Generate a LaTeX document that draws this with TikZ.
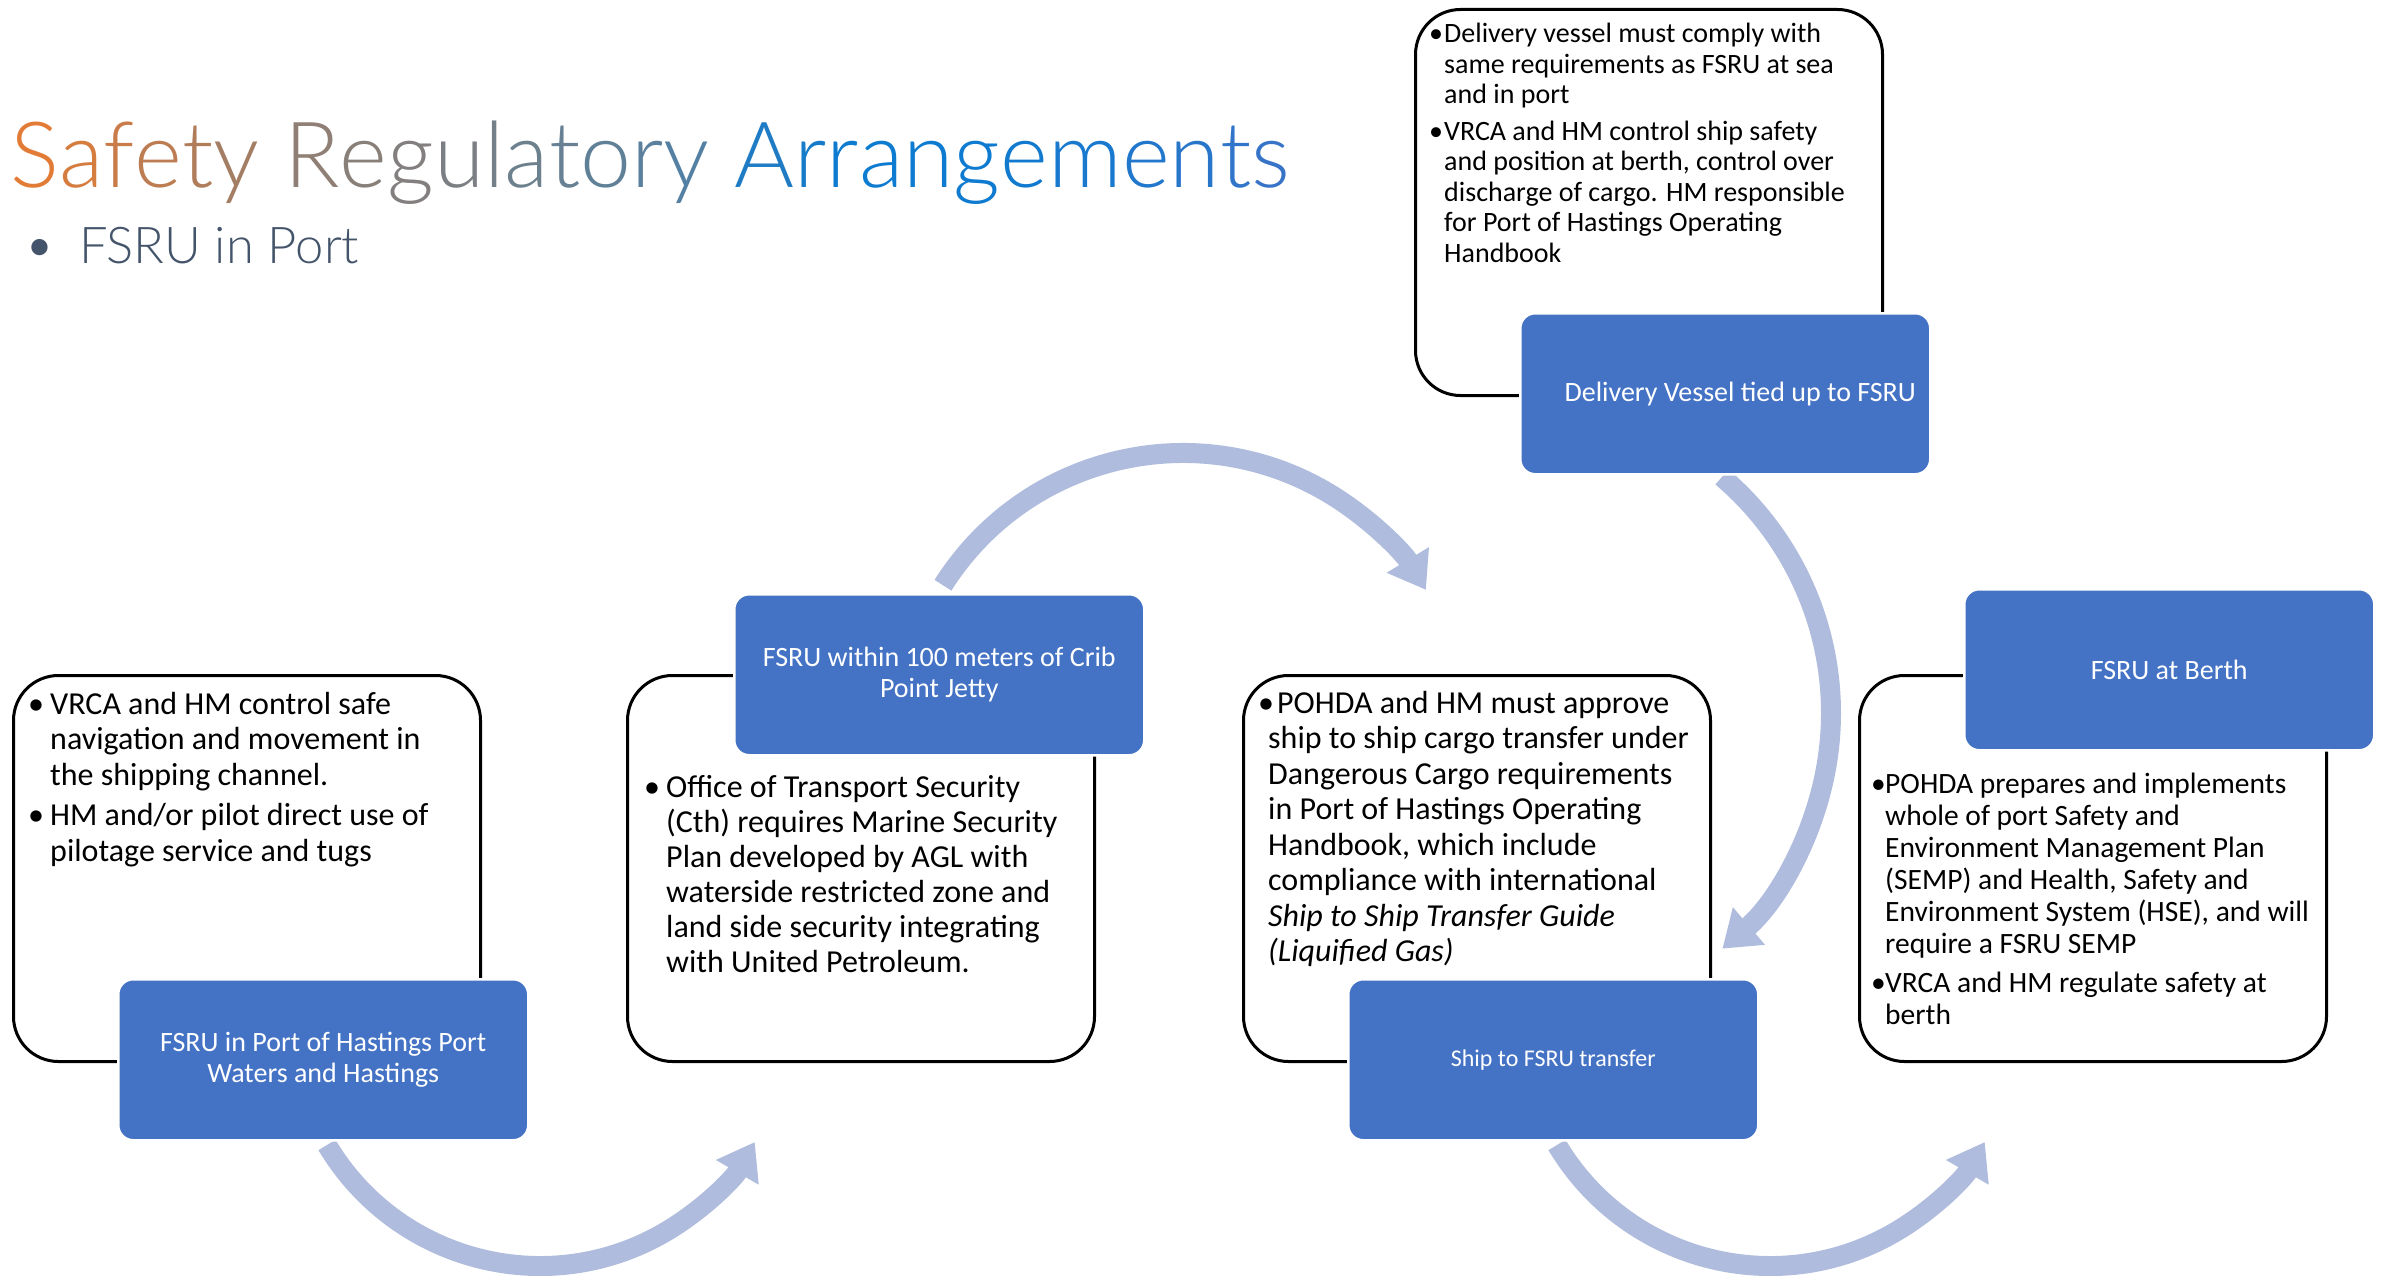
\documentclass[tikz,border=0pt]{standalone}
\usepackage{fontspec}
\usepackage{graphicx}
\setmainfont{Carlito}
\newfontfamily\titlefont{Lato Light}
\usetikzlibrary{arrows.meta}
\definecolor{boxblue}{HTML}{4472C4}
\definecolor{arrowc}{HTML}{AFBCDD}
\definecolor{subc}{HTML}{44546A}
\definecolor{tO}{HTML}{E27B36}
\definecolor{tG}{HTML}{8F7F74}
\definecolor{tS}{HTML}{4C80A8}
\definecolor{tB}{HTML}{0C7BD0}
\definecolor{tE}{HTML}{3F72C6}
\newcommand\gc[4]{{\color{#1!#2!#3}#4}}
\newcommand\fsz[2]{\fontsize{#1pt}{#2pt}\selectfont}
\newcommand\bul[1]{\makebox[#1pt][l]{\textbullet}}
\begin{document}
\begin{tikzpicture}[x=1pt,y=-1pt,
  outline/.style={draw=black, line width=3pt, rounded corners=45pt, minimum width=467pt, minimum height=386pt, anchor=north west, inner sep=0pt},
  bbox/.style={fill=boxblue, draw=white, line width=2.5pt, rounded corners=15pt, minimum width=410pt, minimum height=161pt, anchor=north west, inner sep=0pt, text=white, align=center, font=\fsz{28}{31}},
  txt/.style={anchor=base west, inner sep=0pt, text=black},
  arr/.style={draw=arrowc, line width=20pt, -{Triangle[width=47pt,length=35pt]}}]
\useasboundingbox (0,0) rectangle (2384,1276);

% title
\node[anchor=base west, inner sep=0pt, font=\titlefont\fsz{98}{110}] (title) at (10,188) {\resizebox{1280pt}{!}{%
\gc{tO}{100}{tG}{S}\gc{tO}{85}{tG}{a}\gc{tO}{70}{tG}{f}\gc{tO}{55}{tG}{e}\gc{tO}{40}{tG}{t}\gc{tO}{25}{tG}{y} %
\gc{tG}{100}{tS}{R}\gc{tG}{90}{tS}{e}\gc{tG}{80}{tS}{g}\gc{tG}{70}{tS}{u}\gc{tG}{60}{tS}{l}\gc{tG}{50}{tS}{a}\gc{tG}{40}{tS}{t}\gc{tG}{30}{tS}{o}\gc{tG}{20}{tS}{r}\gc{tG}{10}{tS}{y} %
\gc{tS}{30}{tB}{A}\gc{tS}{15}{tB}{r}\gc{tB}{100}{tE}{r}\gc{tB}{100}{tE}{a}\gc{tB}{100}{tE}{n}\gc{tB}{95}{tE}{g}\gc{tB}{90}{tE}{e}\gc{tB}{75}{tE}{m}\gc{tB}{60}{tE}{e}\gc{tB}{45}{tE}{n}\gc{tB}{30}{tE}{t}\gc{tB}{15}{tE}{s}}};
\node[anchor=base west, inner sep=0pt, text=subc, font=\titlefont\fsz{55}{60}] (sub) at (28,263)
  {\makebox[51pt][l]{\raisebox{3pt}{\rmfamily\fsz{46}{46}\textbullet}}\resizebox{280pt}{!}{FSRU in Port}};

% arrows
\coordinate (cA) at (540,1018);
\coordinate (cB) at (1183,737);
\coordinate (cC) at (1521,713);
\coordinate (cD) at (1770,1018);
\draw[arr] ([shift={(149.2:248)}]cA) arc[start angle=149.2, end angle=30, radius=248];
\draw[arr] ([shift={(212.3:284)}]cB) arc[start angle=212.3, end angle=328.8, radius=284];
\draw[arr] ([shift={(-49.6:310)}]cC) arc[start angle=-49.6, end angle=49.5, radius=310];
\draw[arr] ([shift={(149.2:248)}]cD) arc[start angle=149.2, end angle=30, radius=248];

% outline boxes
\node[outline] (o1) at (12,674) {};
\node[outline] (o2) at (626,674) {};
\node[outline] (o3) at (1242,674) {};
\node[outline] (o4) at (1858,674) {};
\node[outline] (o5) at (1414,8) {};

% blue boxes
\node[bbox] (b1) at (117,978) {FSRU in Port of Hastings Port\\Waters and Hastings};
\node[bbox] (b2) at (733,593) {FSRU within 100 meters of Crib\\Point Jetty};
\node[bbox, font=\fsz{24}{28}] (b3) at (1347,978) {Ship to FSRU transfer};
\node[bbox] (b4) at (1963,588) {FSRU at Berth};
\node[bbox] (b5) at (1519,312) {\hspace*{30pt}Delivery Vessel tied up to FSRU};

% texts
\node[txt, font=\fsz{32}{35.5}] (t1) at (28,714) {\begin{tabular}[t]{@{}l@{}l@{}}%
\bul{22}&VRCA and HM control safe\\
&navigation and movement in\\
&the shipping channel.\\[5pt]
\bul{22}&HM and/or pilot direct use of\\
&pilotage service and tugs\end{tabular}};

\node[txt, font=\fsz{32}{35}] (t2) at (644,797) {\begin{tabular}[t]{@{}l@{}l@{}}%
\bul{22}&Office of Transport Security\\
&(Cth) requires Marine Security\\
&Plan developed by AGL with\\
&waterside restricted zone and\\
&land side security integrating\\
&with United Petroleum.\end{tabular}};

\node[txt, font=\fsz{32}{35.5}] (t3) at (1258,713) {\begin{tabular}[t]{@{}l@{}l@{}}%
\bul{10}&\hspace*{9pt}POHDA and HM must approve\\
&ship to ship cargo transfer under\\
&Dangerous Cargo requirements\\
&in Port of Hastings Operating\\
&Handbook, which include\\
&compliance with international\\
&\textit{Ship to Ship Transfer Guide}\\
&\textit{(Liquified Gas)}\end{tabular}};

\node[txt, font=\fsz{29.5}{32}] (t4) at (1871,793) {\begin{tabular}[t]{@{}l@{}l@{}}%
\bul{14}&POHDA prepares and implements\\
&whole of port Safety and\\
&Environment Management Plan\\
&(SEMP) and Health, Safety and\\
&Environment System (HSE), and will\\
&require a FSRU SEMP\\[7pt]
\bul{14}&VRCA and HM regulate safety at\\
&berth\end{tabular}};

\node[txt, font=\fsz{28}{30.5}] (t5) at (1429,43) {\begin{tabular}[t]{@{}l@{}l@{}}%
\bul{15}&Delivery vessel must comply with\\
&same requirements as FSRU at sea\\
&and in port\\[6pt]
\bul{15}&VRCA and HM control ship safety\\
&and position at berth, control over\\
&discharge of cargo. HM responsible\\
&for Port of Hastings Operating\\
&Handbook\end{tabular}};
\end{tikzpicture}
\end{document}
